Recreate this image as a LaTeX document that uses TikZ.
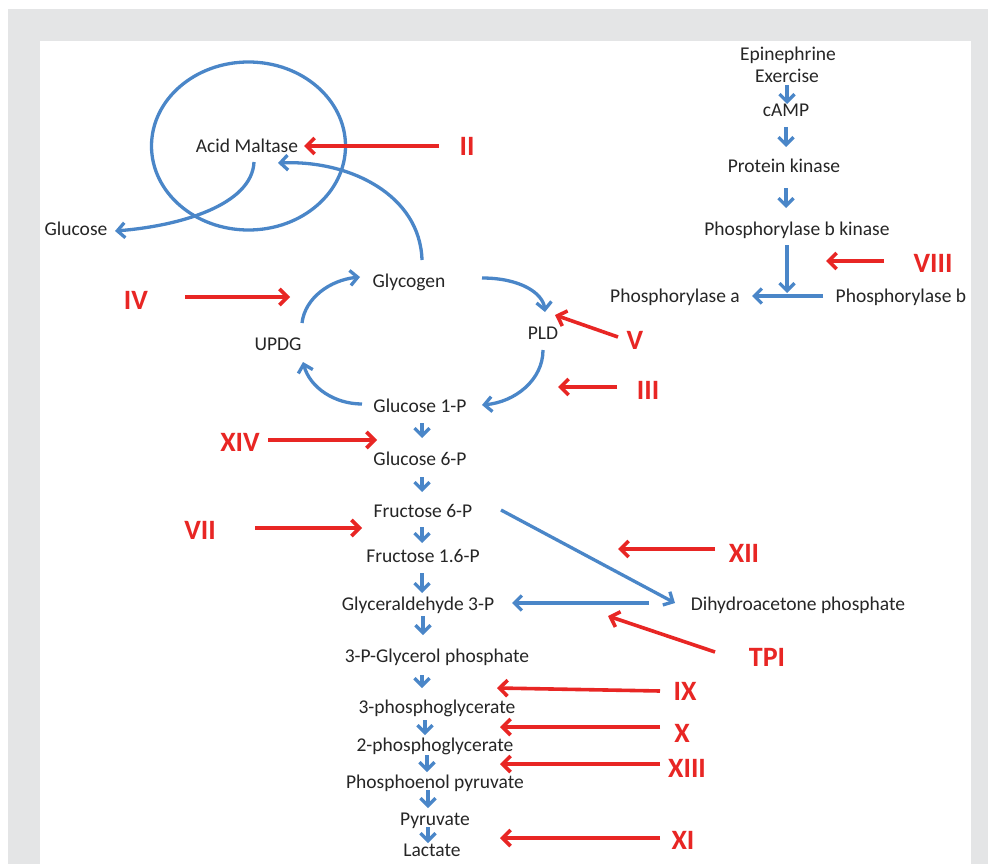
\documentclass[tikz,border=0pt]{standalone}
\usepackage{fontspec}
\setmainfont{Carlito}
\usetikzlibrary{arrows.meta,calc}
\definecolor{bgray}{RGB}{228,229,230}
\definecolor{pblue}{RGB}{74,134,200}
\definecolor{pred}{RGB}{232,38,36}
\definecolor{ptext}{RGB}{38,38,38}
\begin{document}
\begin{tikzpicture}[x=1pt,y=-1pt,
  lbl/.style={text=ptext,font=\fontsize{19.5}{22}\selectfont,inner sep=0pt,text height=1.08em,text depth=0em},
  rl/.style={text=pred,font=\fontsize{28}{30}\selectfont\bfseries,inner sep=0pt},
  barr/.style={draw=pblue,line width=3.3pt,-{Straight Barb[length=7.5pt,width=15pt]}},
  rarr/.style={draw=pred,line width=3.6pt,-{Straight Barb[length=8pt,width=16pt]}}]
\useasboundingbox (0,0) rectangle (988,864);
\fill[white] (0,0) rectangle (988,864);
\fill[bgray] (8,9) rectangle (988,864);
\fill[white] (40,41) rectangle (971,864);

% ellipse
\draw[pblue,line width=3.3pt] (248.5,146) ellipse [x radius=97, y radius=84];

% text nodes
\node[lbl] (am) at (247,147) {Acid Maltase};
\node[lbl] (glc) at (76,230) {Glucose};
\node[lbl] (gly) at (409,282) {Glycogen};
\node[lbl] (updg) at (278,345) {UPDG};
\node[lbl] (pld) at (543,334) {PLD};
\node[lbl] (g1p) at (420,407) {Glucose 1-P};
\node[lbl] (g6p) at (420,460) {Glucose 6-P};
\node[lbl] (f6p) at (423,512) {Fructose 6-P};
\node[lbl] (f16p) at (423,557) {Fructose 1.6-P};
\node[lbl] (gap) at (418,605) {Glyceraldehyde 3-P};
\node[lbl] (dhap) at (798,605) {Dihydroacetone phosphate};
\node[lbl] (pgp) at (437,657) {3-P-Glycerol phosphate};
\node[lbl] (pg3) at (437,708) {3-phosphoglycerate};
\node[lbl] (pg2) at (435,746) {2-phosphoglycerate};
\node[lbl] (pep) at (435,783) {Phosphoenol pyruvate};
\node[lbl] (pyr) at (435,820) {Pyruvate};
\node[lbl] (lac) at (432,851) {Lactate};
\node[lbl] (epi) at (788,55) {Epinephrine};
\node[lbl] (exe) at (787,77) {Exercise};
\node[lbl] (camp) at (786,111) {cAMP};
\node[lbl] (pk) at (784,167) {Protein kinase};
\node[lbl] (pbk) at (797,230) {Phosphorylase b kinase};
\node[lbl] (pa) at (675,297) {Phosphorylase a};
\node[lbl] (pb) at (901,297) {Phosphorylase b};

% red labels
\node[rl] (lII) at (467,146) {II};
\node[rl] (lIV) at (136,300) {IV};
\node[rl] (lV) at (635,340) {V};
\node[rl] (lIII) at (648,390) {III};
\node[rl] (lVIII) at (933,263) {VIII};
\node[rl] (lXIV) at (240,442) {XIV};
\node[rl] (lVII) at (200,530) {VII};
\node[rl] (lXII) at (744,553) {XII};
\node[rl] (lTPI) at (767,657) {TPI};
\node[rl] (lIX) at (685,691) {IX};
\node[rl] (lX) at (682,733) {X};
\node[rl] (lXIII) at (687,768) {XIII};
\node[rl] (lXI) at (683,840) {XI};

% red arrow tips
\coordinate (tII) at (304,146);
\coordinate (tIV) at (290,297);
\coordinate (tV) at (555,315);
\coordinate (tIII) at (558,387);
\coordinate (tVIII) at (826,261);
\coordinate (tXIV) at (377,440);
\coordinate (tVII) at (362,528);
\coordinate (tXII) at (618,549);
\coordinate (tTPI) at (608,616);
\coordinate (tIX) at (497,688);
\coordinate (tX) at (500,727);
\coordinate (tXIII) at (500,764);
\coordinate (tXI) at (500,838);

\draw[rarr] ($(lII)+(-28,0)$) -- (tII);
\draw[rarr] ($(lIV)+(49,-3)$) -- (tIV);
\draw[rarr] ($(lV)+(-17,-3)$) -- (tV);
\draw[rarr] ($(lIII)+(-31,-3)$) -- (tIII);
\draw[rarr] ($(lVIII)+(-49,-2)$) -- (tVIII);
\draw[rarr] ($(lXIV)+(28,-2)$) -- (tXIV);
\draw[rarr] ($(lVII)+(55,-2)$) -- (tVII);
\draw[rarr] ($(lXII)+(-29,-4)$) -- (tXII);
\draw[rarr] ($(lTPI)+(-52,-5)$) -- (tTPI);
\draw[rarr] ($(lIX)+(-25,0)$) -- (tIX);
\draw[rarr] ($(lX)+(-22,-6)$) -- (tX);
\draw[rarr] ($(lXIII)+(-27,-4)$) -- (tXIII);
\draw[rarr] ($(lXI)+(-23,-2)$) -- (tXI);

% blue curved arrows
\draw[barr] ($(am)+(7,15)$) .. controls (252,205) and (180,226) .. ($(glc)+(39,1)$);
\draw[barr] ($(gly)+(13,-22)$) .. controls (420,195) and (350,160) .. ($(am)+(31,16)$);
\draw[barr] ($(updg)+(24,-22)$) .. controls (305,298) and (330,280) .. ($(gly)+(-49,-5)$);
\draw[barr] ($(gly)+(73,-4)$) .. controls (520,278) and (543,293) .. ($(pld)+(2,-22)$);
\draw[barr] ($(g1p)+(-58,-3)$) .. controls (335,404) and (310,388) .. ($(updg)+(25,17)$);
\draw[barr] ($(pld)+(0,16)$) .. controls (543,380) and (515,402) .. ($(g1p)+(62,-2)$);

% blue straight arrows
\draw[barr] ($(f6p)+(78,-2)$) -- ($(dhap)+(-123,-2)$);
\draw[barr] ($(dhap)+(-149,-2)$) -- ($(gap)+(94,-2)$);
\draw[barr] ($(exe)+(0,8)$) -- ($(camp)+(1,-7)$);
\draw[barr] ($(camp)+(0,16)$) -- ($(pk)+(2,-20)$);
\draw[barr] ($(pk)+(2,21)$) -- ($(pbk)+(-11,-22)$);
\coordinate (jn) at (787,293);
\draw[barr] ($(pbk)+(-10,15)$) -- (jn);
\draw[barr] ($(pb)+(-78,-1)$) -- ($(pa)+(77,-1)$);

% main column small arrows
\draw[barr] ($(g1p)+(2,16)$) -- ($(g6p)+(2,-22)$);
\draw[barr] ($(g6p)+(2,17)$) -- ($(f6p)+(-1,-20)$);
\draw[barr] ($(f6p)+(-1,15)$) -- ($(f16p)+(-1,-14)$);
\draw[barr] ($(f16p)+(-1,16)$) -- ($(gap)+(4,-12)$);
\draw[barr] ($(gap)+(5,11)$) -- ($(pgp)+(-14,-22)$);
\draw[barr] ($(pgp)+(-15,18)$) -- ($(pg3)+(-15,-20)$);
\draw[barr] ($(pg3)+(-12,12)$) -- ($(pg2)+(-10,-11)$);
\draw[barr] ($(pg2)+(-8,9)$) -- ($(pep)+(-8,-11)$);
\draw[barr] ($(pep)+(-7,7)$) -- ($(pyr)+(-7,-12)$);
\draw[barr] ($(pyr)+(-7,7)$) -- ($(lac)+(-4,-8)$);
\end{tikzpicture}
\end{document}
